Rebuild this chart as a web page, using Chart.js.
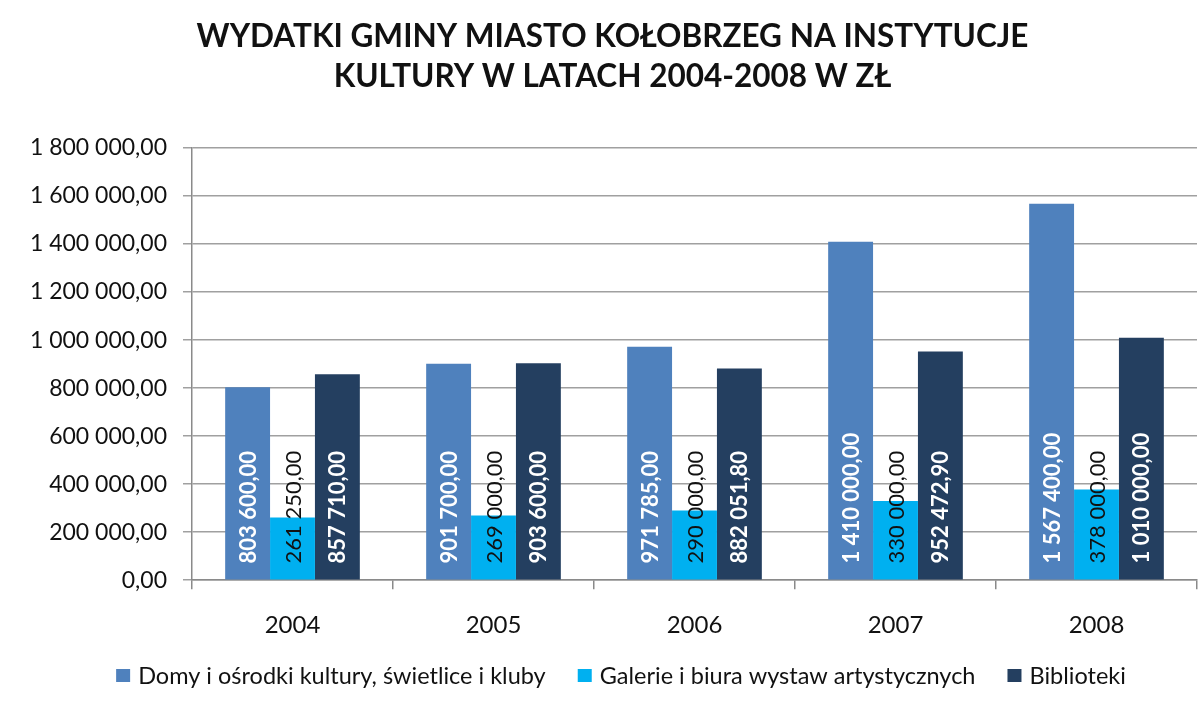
<!DOCTYPE html>
<html>
<head>
<meta charset="utf-8">
<script src="https://cdn.jsdelivr.net/npm/chart.js@4"></script>
<style>
  html, body { margin: 0; padding: 0; background: #fff; }
  #wrap { width: 1198px; height: 713px; }
</style>
</head>
<body>
<div id="wrap"><canvas id="chart" width="1198" height="713"></canvas></div>
<script>
// Data
const years = ['2004', '2005', '2006', '2007', '2008'];
const domy = [803600, 901700, 971785, 1410000, 1567400];
const galerie = [261250, 269000, 290000, 330000, 378000];
const biblioteki = [857710, 903600, 882051.80, 952472.90, 1010000];
const seriesNames = ['Domy i ośrodki kultury, świetlice i kluby', 'Galerie i biura wystaw artystycznych', 'Biblioteki'];

const domyColor = '#4f81bd';
const galerieColor = '#00b0f0';
const bibliotekiColor = '#243f60';
const fontFamily = 'Lato, "Open Sans", sans-serif';

// 1 800 000,00 style
function fmt(v) {
    const parts = v.toFixed(2).split('.');
    const intPart = parts[0].replace(/\B(?=(\d{3})+(?!\d))/g, ' ');
    return intPart + ',' + parts[1];
}

// vertical value labels sitting at the bar base
const barLabels = {
    id: 'barLabels',
    afterDatasetsDraw(chart) {
        const ctx = chart.ctx;
        chart.data.datasets.forEach((ds, i) => {
            const meta = chart.getDatasetMeta(i);
            meta.data.forEach((bar, j) => {
                ctx.save();
                ctx.translate(bar.x, bar.base - 16);
                ctx.rotate(-Math.PI / 2);
                ctx.font = (i === 1 ? 'normal ' : 'bold ') + '22px ' + fontFamily;
                ctx.fillStyle = i === 1 ? '#111' : '#fff';
                ctx.textAlign = 'left';
                ctx.textBaseline = 'middle';
                ctx.fillText(fmt(ds.data[j]), 0, 1);
                ctx.restore();
            });
        });
    }
};

// legend row drawn under the axis, spaced like the Excel original
const legendRow = {
    id: 'legendRow',
    afterDraw(chart) {
        const ctx = chart.ctx;
        const datasets = chart.data.datasets;
        const box = 14, gap = 8, spacing = 32, y = 676;
        ctx.save();
        ctx.font = '23.5px ' + fontFamily;
        ctx.textBaseline = 'middle';
        ctx.textAlign = 'left';
        const widths = datasets.map(ds => ctx.measureText(ds.label).width);
        const total = widths.reduce((a, w) => a + box + gap + w, 0) + spacing * (datasets.length - 1);
        let x = 621 - total / 2;
        datasets.forEach((ds, i) => {
            ctx.fillStyle = ds.backgroundColor;
            ctx.fillRect(x, y - 7, box, 13);
            ctx.fillStyle = '#111';
            ctx.fillText(ds.label, x + box + gap, y);
            x += box + gap + widths[i] + spacing;
        });
        ctx.restore();
    }
};

const ctx = document.getElementById('chart').getContext('2d');
new Chart(ctx, {
    type: 'bar',
    data: {
        labels: years,
        datasets: [
            { label: seriesNames[0], data: domy, backgroundColor: domyColor },
            { label: seriesNames[1], data: galerie, backgroundColor: galerieColor },
            { label: seriesNames[2], data: biblioteki, backgroundColor: bibliotekiColor }
        ]
    },
    options: {
        responsive: false,
        animation: false,
        categoryPercentage: 0.67,
        barPercentage: 1,
        layout: { padding: { left: 28, right: 1, top: 17, bottom: 51 } },
        scales: {
            y: {
                min: 0,
                max: 1800000,
                ticks: {
                    stepSize: 200000,
                    color: '#111',
                    padding: 16,
                    font: { family: fontFamily, size: 23 },
                    callback: v => fmt(v)
                },
                grid: { color: '#a0a0a0', lineWidth: 1.5, tickLength: 9 },
                border: { color: '#8a8a8a', width: 1.5 },
                afterFit: scale => { scale.width = 164; }
            },
            x: {
                offset: true,
                ticks: { color: '#111', padding: 22, font: { family: fontFamily, size: 24 } },
                grid: { offset: true, drawOnChartArea: false, tickLength: 9, color: '#8a8a8a', lineWidth: 1.5 },
                border: { color: '#8a8a8a', width: 1.5 }
            }
        },
        plugins: {
            title: {
                display: true,
                text: ['WYDATKI GMINY MIASTO KOŁOBRZEG NA INSTYTUCJE', 'KULTURY W LATACH 2004-2008 W ZŁ'],
                color: '#111',
                font: { family: fontFamily, size: 31.5, weight: 'bold', lineHeight: 1.27 },
                padding: { top: 0, bottom: 51 }
            },
            legend: { display: false },
            tooltip: { enabled: false }
        }
    },
    plugins: [barLabels, legendRow]
});
</script>
</body>
</html>
